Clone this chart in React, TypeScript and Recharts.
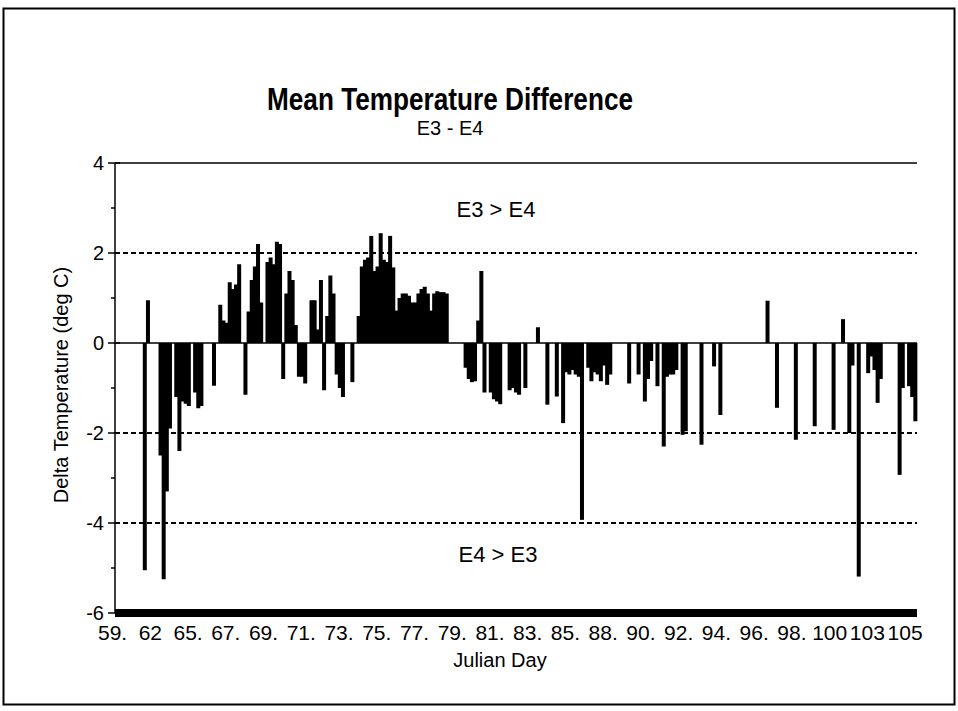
import React from 'react';
import { BarChart, Bar, XAxis, YAxis, ReferenceLine } from 'recharts';

// Julian day labels, one every LABEL_STEP readings
const dayLabels = [
  '59.', '62', '65.', '67.', '69.', '71.', '73.', '75.', '77.', '79.', '81.',
  '83.', '85.', '88.', '90.', '92.', '94.', '96.', '98.', '100', '103', '105',
];
const LABEL_STEP = 12;

// E3 - E4 mean temperature difference (deg C)
const deltaTemp = [
  0, 0, 0, 0, 0, 0, 0, 0, 0, -5.05,
  0.95, 0, 0, 0, -2.5, -5.25, -3.3, -1.9, 0, -1.2,
  -2.4, -1.3, -1.35, -1.4, 0, -1.1, -1.45, -1.4, 0, 0,
  0, -0.95, 0, 0.85, 0.5, 0.45, 1.35, 1.2, 1.3, 1.75,
  0, -1.15, 0.7, 1.4, 1.7, 2.2, 0.9, 0, 1.8, 1.9,
  1.75, 2.25, 2.2, -0.8, 1.1, 1.6, 1.4, 0.4, -0.75, -0.75,
  -0.9, 0, 0.95, 0.95, 0.3, 1.4, -1.05, 0.6, 1.5, 1.1,
  -0.7, -1.0, -1.2, 0, 0, -0.87, 0, 0.6, 1.7, 1.85,
  1.9, 2.38, 1.6, 1.7, 2.44, 1.85, 1.8, 2.38, 1.68, 0.72,
  1.0, 1.1, 1.1, 1.05, 0.9, 0.9, 1.1, 1.2, 1.25, 1.1,
  0.72, 1.1, 1.15, 1.13, 1.13, 1.1, 0, 0, 0, 0,
  0, -0.55, -0.8, -0.87, -0.85, 0.5, 1.6, -1.1, 0, -1.1,
  -1.25, -1.3, -1.36, 0, 0, -1.05, -1.0, -1.1, -1.15, 0,
  -1.0, 0, 0, 0, 0.35, 0, 0, -1.37, 0, 0,
  -1.19, 0, -1.78, -0.65, -0.7, -0.6, -0.7, -0.75, -3.93, 0,
  -0.55, -0.85, -0.65, -0.7, -0.85, -0.5, -0.93, -0.7, 0, 0,
  0, 0, 0, -0.9, 0, 0, -0.7, 0, -1.3, -0.8,
  -0.4, 0, -0.96, 0, -2.3, -0.75, -0.7, -0.7, -0.6, 0,
  -2.04, -1.96, 0, 0, 0, 0, -2.26, 0, 0, 0,
  -0.52, 0, -1.6, 0, 0, 0, 0, 0, 0, 0,
  0, 0, 0, 0, 0, 0, 0, 0.94, 0, 0,
  -1.44, 0, 0, 0, 0, 0, -2.15, 0, 0, 0,
  0, 0, -1.85, 0, 0, 0, 0, 0, -1.93, 0,
  0, 0.53, 0, -2.0, -0.5, 0, -5.19, 0, 0, -0.67,
  -0.3, -0.6, -1.33, -0.8, 0, 0, 0, 0, 0, -2.93,
  -1.0, 0, -0.96, -1.2, -1.74,
];

const yTicks = [-6, -5, -4, -3, -2, -1, 0, 1, 2, 3, 4];
const gridLevels = [2, -2, -4];

const data = deltaTemp.map((v, i) => ({ i, delta: v }));
const xTicks = dayLabels.map((_, k) => k * LABEL_STEP);

const FONT = "'Liberation Sans', Arial, Helvetica, sans-serif";

const YTick = (props: any) => {
  const { x, y, payload } = props;
  const v = payload.value;
  const major = v % 2 === 0;
  return (
    <g>
      <line x1={major ? x - 7 : x - 4} x2={major ? x + 5 : x} y1={y} y2={y} stroke="#000" strokeWidth={1.5} />
      {major && (
        <text x={x - 11} y={y} dy={7} textAnchor="end" fontSize={20} fontFamily={FONT} fill="#000">
          {v}
        </text>
      )}
    </g>
  );
};

const XTick = (props: any) => {
  const { x, y, payload } = props;
  return (
    <text x={x - 4} y={y} dy={27} textAnchor="middle" fontSize={21} fontFamily={FONT} fill="#000">
      {dayLabels[payload.value / LABEL_STEP]}
    </text>
  );
};

// column centred on its category, a bit wider than the band so neighbours join up
const drawColumn = (props: any) => {
  const { x, y, width, height } = props;
  if (!height) return <g />;
  const cx = x + (width || 0) / 2;
  const top = height < 0 ? y + height : y;
  return <rect x={cx - 2} y={top} width={4} height={Math.abs(height)} fill="#000" />;
};

export default function App() {
  return (
    <div style={{ position: 'absolute', left: 0, top: 0, width: 958, height: 711, background: '#fff' }}>
      <BarChart
        width={958}
        height={711}
        data={data}
        margin={{ top: 163, right: 41, bottom: 38, left: 0 }}
        barCategoryGap="0%"
        barGap={0}
      >
        <XAxis
          dataKey="i"
          ticks={xTicks}
          interval={0}
          height={60}
          tickLine={false}
          tickSize={0}
          tickMargin={0}
          tick={<XTick />}
          axisLine={{ stroke: '#000', strokeWidth: 8 }}
        />
        <YAxis
          yAxisId="left"
          width={115}
          domain={[-6, 4]}
          ticks={yTicks}
          interval={0}
          tickLine={false}
          tickSize={0}
          tickMargin={0}
          tick={<YTick />}
          axisLine={{ stroke: '#000', strokeWidth: 1.5 }}
        />
        <YAxis
          yAxisId="right"
          orientation="right"
          width={0}
          domain={[-6, 4]}
          tick={false}
          tickLine={false}
          axisLine={{ stroke: '#000', strokeWidth: 1.5 }}
        />
        <ReferenceLine yAxisId="left" y={4} stroke="#000" strokeWidth={1.5} />
        {gridLevels.map((g) => (
          <ReferenceLine key={g} yAxisId="left" y={g} stroke="#000" strokeWidth={2} strokeDasharray="5 3" />
        ))}
        <Bar
          yAxisId="left"
          dataKey="delta"
          fill="#000"
          shape={drawColumn}
          isAnimationActive={false}
        />
        <ReferenceLine yAxisId="left" y={0} stroke="#000" strokeWidth={1.5} />
      </BarChart>
      <svg
        width={958}
        height={711}
        style={{ position: 'absolute', left: 0, top: 0, pointerEvents: 'none' }}
      >
        <rect x={3.5} y={8.5} width={951} height={696} fill="none" stroke="#000" strokeWidth={2} />
        <text
          x={450}
          y={110}
          textAnchor="middle"
          fontSize={31}
          fontWeight="bold"
          fontFamily={FONT}
          textLength={366}
          lengthAdjust="spacingAndGlyphs"
        >
          Mean Temperature Difference
        </text>
        <text x={450} y={135} textAnchor="middle" fontSize={20} fontFamily={FONT}>
          E3 - E4
        </text>
        <text x={496} y={217} textAnchor="middle" fontSize={22} fontFamily={FONT}>
          E3 &gt; E4
        </text>
        <text x={498} y={562} textAnchor="middle" fontSize={22} fontFamily={FONT}>
          E4 &gt; E3
        </text>
        <text
          x={0}
          y={0}
          transform="translate(68,385) rotate(-90)"
          textAnchor="middle"
          fontSize={20}
          fontFamily={FONT}
        >
          Delta Temperature (deg C)
        </text>
        <text x={500} y={667} textAnchor="middle" fontSize={20} fontFamily={FONT}>
          Julian Day
        </text>
      </svg>
    </div>
  );
}
